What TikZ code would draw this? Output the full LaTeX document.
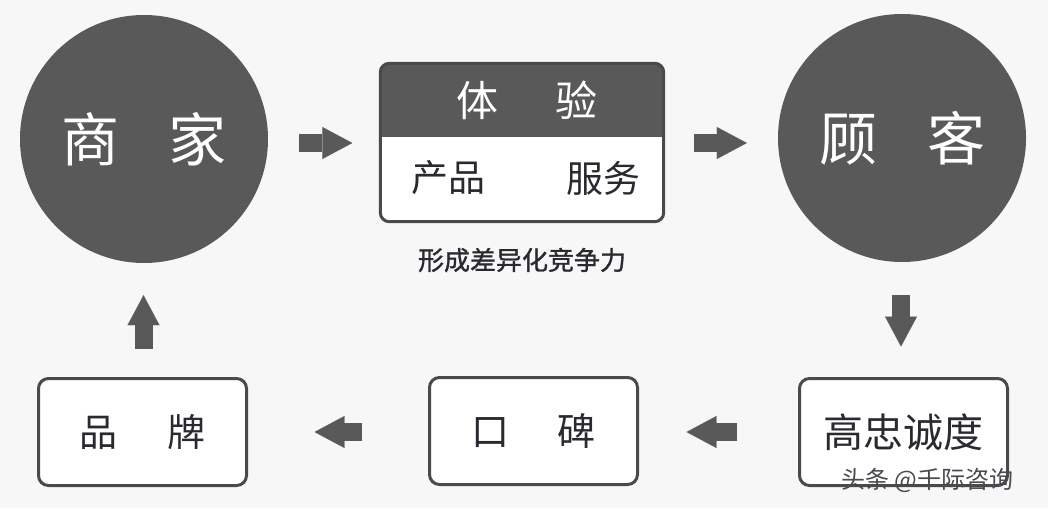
\documentclass[tikz,border=0pt]{standalone}
\usepackage{fontspec}
\setmainfont{Noto Sans CJK SC}
\newfontfamily\medfont[FakeBold=1.2]{Noto Sans CJK SC}
\usetikzlibrary{arrows.meta,calc}
\definecolor{bg}{HTML}{F7F7F7}
\definecolor{dark}{HTML}{595959}
\definecolor{edge}{HTML}{4A4A4A}
\definecolor{ink}{HTML}{2B2830}
\begin{document}
\begin{tikzpicture}[x=1pt,y=-1pt,
  hub/.style={circle, fill=dark, minimum size=248pt, inner sep=0pt, text=white,
    font=\fontsize{58}{60}\selectfont},
  card/.style={fill=white, draw=edge, line width=3pt, rounded corners=10pt,
    minimum width=208pt, minimum height=107pt, inner sep=0pt, text=ink,
    font=\fontsize{38}{40}\selectfont},
  blockarrow/.style={draw=dark, line width=18pt,
    -{Triangle[length=30pt,width=32pt,line width=0.1pt]}},
  ]
\fill[bg] (0,0) rectangle (1048,508);
\useasboundingbox (0,0) rectangle (1048,508);

% hubs
\node[hub] (merchant) at (144,139) {商\hspace{50pt}家};
\node[hub] (customer) at (902,138) {顾\hspace{50pt}客};

% experience box
\node[fill=white, rounded corners=9pt, minimum width=283pt, minimum height=158pt,
      inner sep=0pt] (exp) at (522,142.5) {};
\begin{scope}
  \clip[rounded corners=9pt] (exp.north west) rectangle (exp.south east);
  \fill[dark] (exp.north west) rectangle ($(exp.north east)+(0,74)$);
\end{scope}
\draw[edge, line width=3pt, rounded corners=9pt] (exp.north west) rectangle (exp.south east);
\node[text=white, font=\fontsize{42}{44}\selectfont] (exptitle) at (527,100) {体\hspace{58pt}验};
\node[text=ink, font=\fontsize{37}{39}\selectfont] (product) at (448,178) {产品};
\node[text=ink, font=\fontsize{37}{39}\selectfont] (service) at (603,178) {服务};
\node[text=ink, font=\medfont\fontsize{26}{28}\selectfont] (caption) at (522,260) {形成差异化竞争力};

% bottom cards
\node[card] (brand) at (142.5,432) {品\hspace{51pt}牌};
\node[card] (wom) at (533.5,431) {口\hspace{48pt}碑};
\node[card, font=\fontsize{40}{42}\selectfont] (loyal) at (903.5,432) {高忠诚度};

% arrows
\draw[blockarrow] ($(merchant.east)+(31,4)$) -- ($(exp.west)+(-28,0.5)$);
\draw[blockarrow] ($(exp.east)+(30,0.5)$) -- ($(customer.west)+(-31,5)$);
\draw[blockarrow] ($(customer.south)+(-1,33)$) -- ($(loyal.north)+(-2.5,-30.5)$);
\draw[blockarrow] ($(loyal.west)+(-61.5,0)$) -- ($(wom.east)+(47.5,1)$);
\draw[blockarrow] ($(wom.west)+(-66.5,1)$) -- ($(brand.east)+(66.5,0)$);
\draw[blockarrow] ($(brand.north)+(1,-28.5)$) -- ($(merchant.south)+(-0.5,32)$);

% watermark
\node[text=ink!85, font=\fontsize{24}{26}\selectfont, anchor=west] (mark) at (838,480) {头条 @千际咨询};
\end{tikzpicture}
\end{document}
